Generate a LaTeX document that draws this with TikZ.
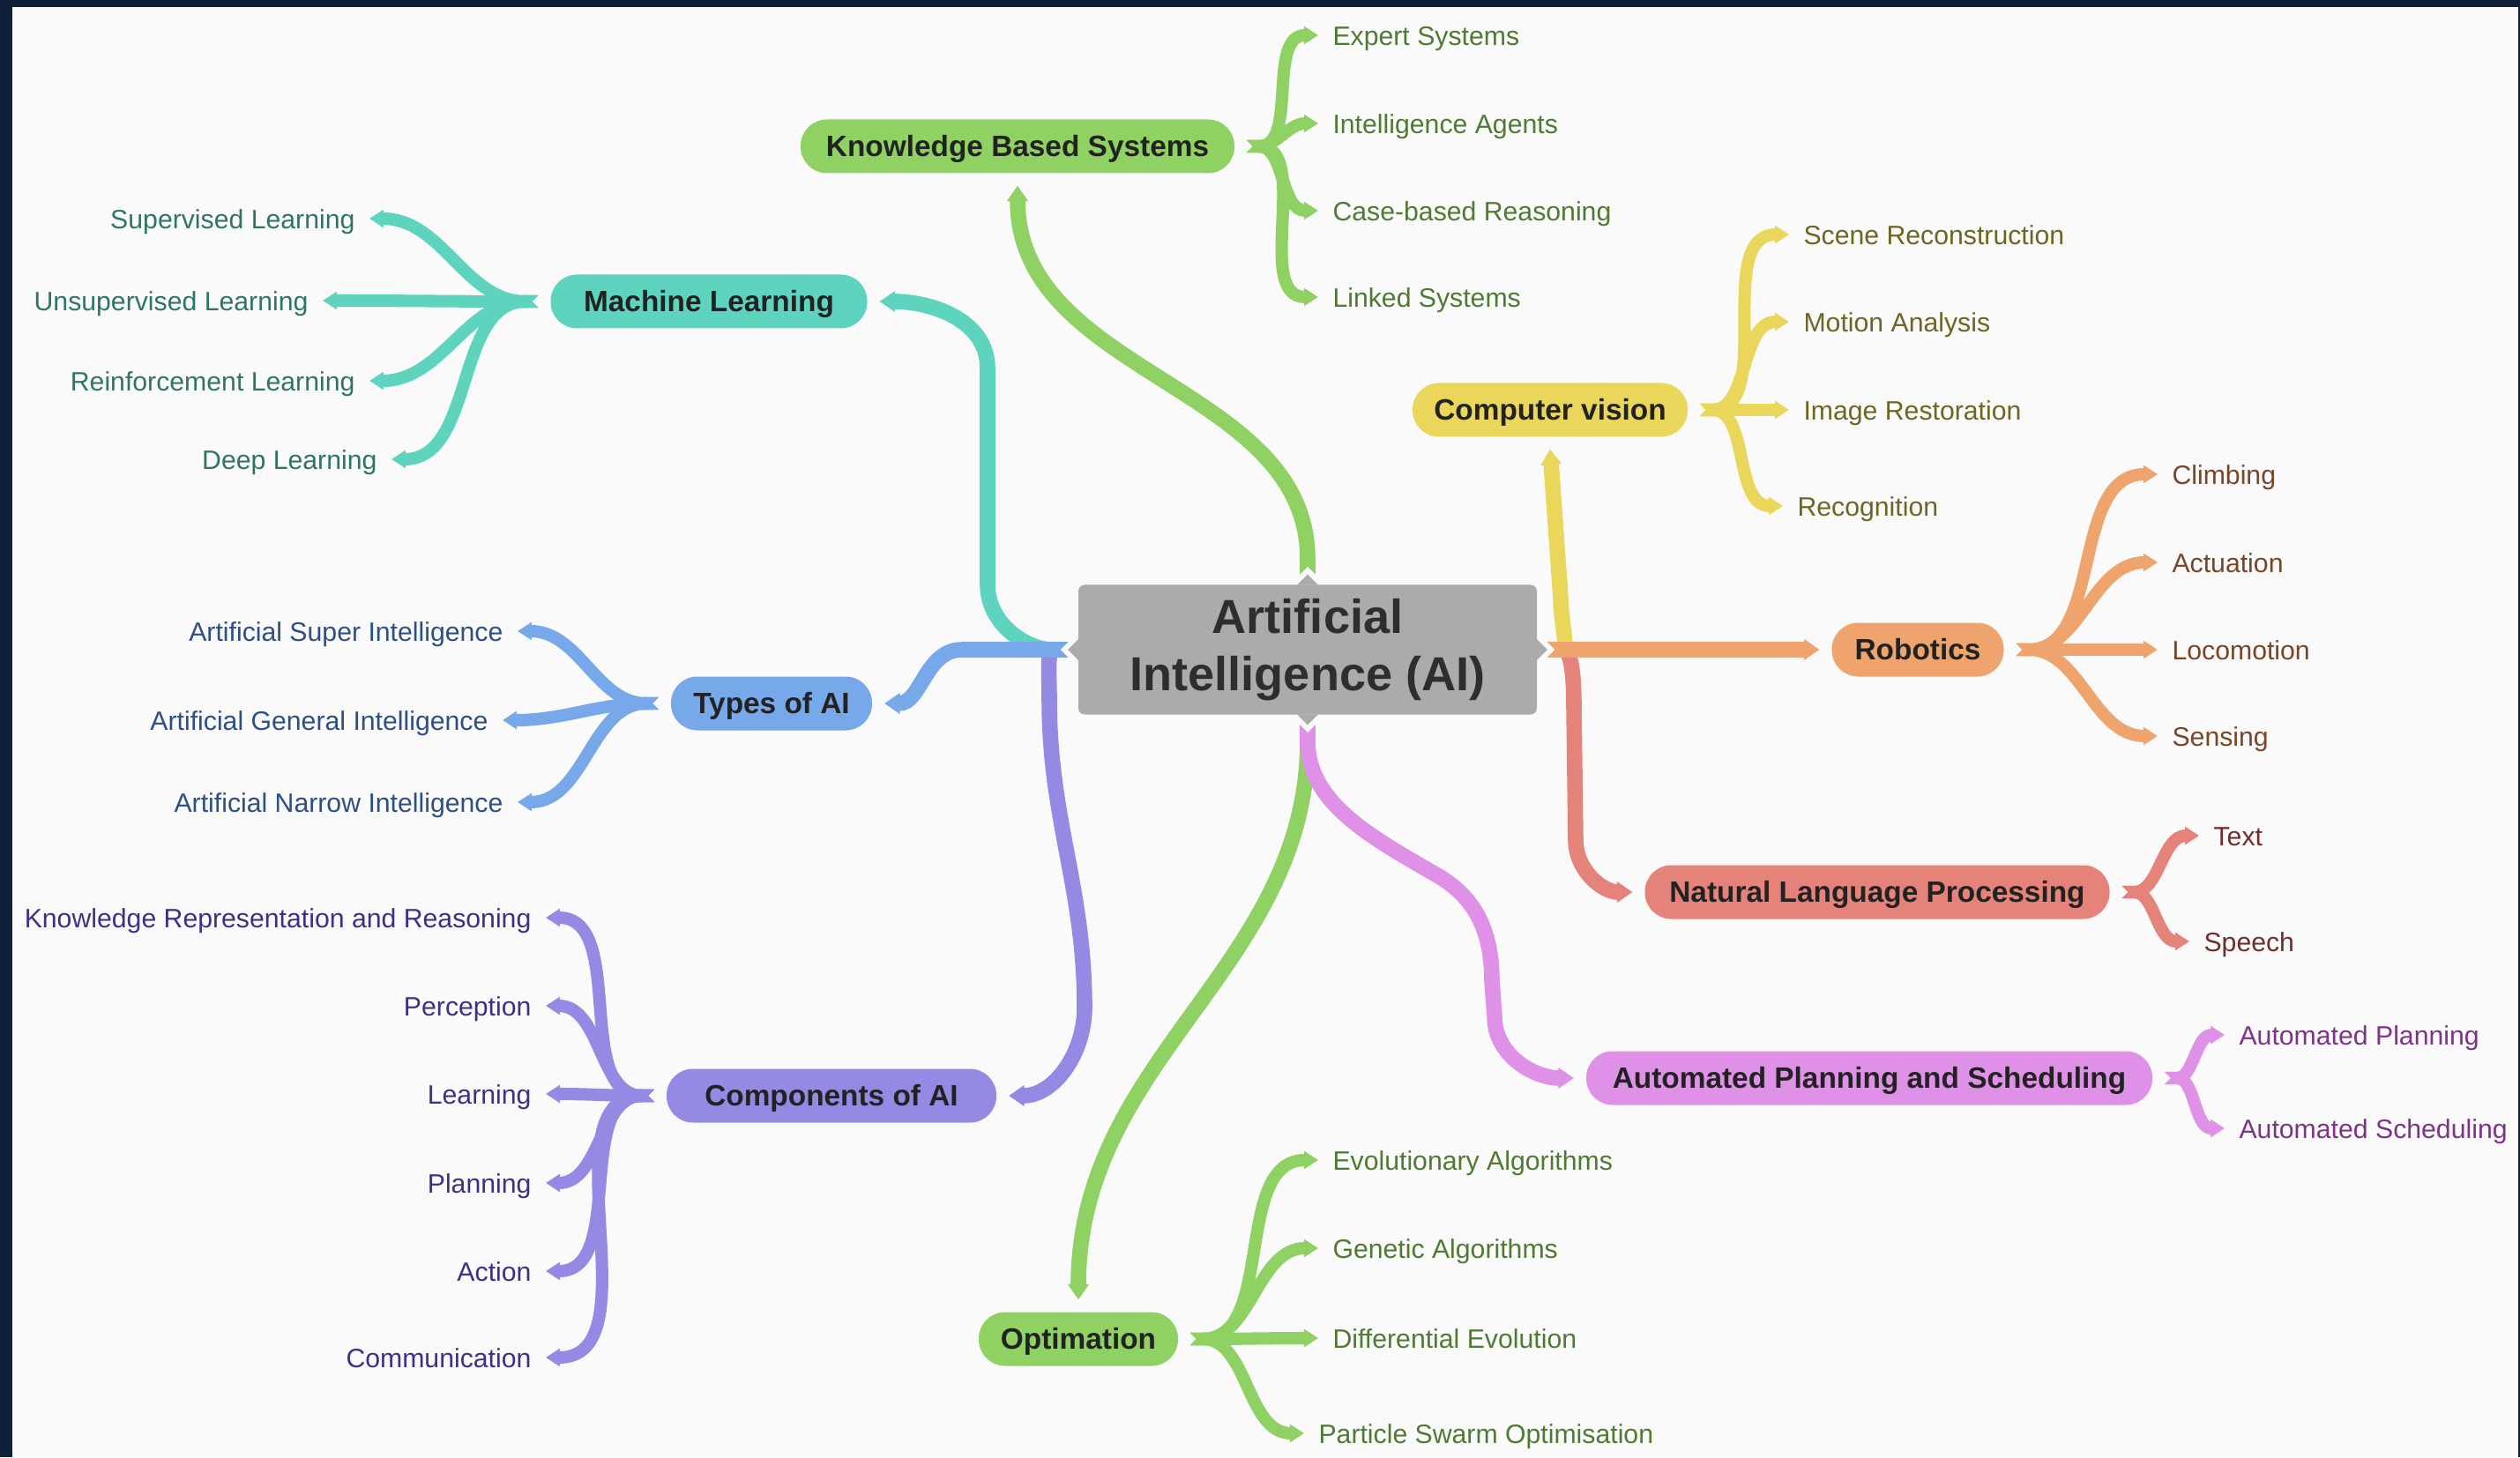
\documentclass[tikz,border=0pt]{standalone}
\usepackage{fontspec}
\setmainfont{Liberation Sans}
\usepackage{tikz}
\usetikzlibrary{arrows.meta}

\definecolor{framenavy}{HTML}{0E1F3A}
\definecolor{paper}{HTML}{FAFAFA}
\definecolor{aigrey}{HTML}{ABABAB}
\definecolor{aitext}{HTML}{2E2E2E}
\definecolor{branchtext}{HTML}{222222}
\definecolor{kbsgreen}{HTML}{90D163}
\definecolor{kbstext}{HTML}{4F7A32}
\definecolor{mlteal}{HTML}{5ED4BF}
\definecolor{mltext}{HTML}{2F7566}
\definecolor{typesblue}{HTML}{77A8EA}
\definecolor{typestext}{HTML}{2D4F86}
\definecolor{compviolet}{HTML}{958AE3}
\definecolor{comptext}{HTML}{3C3187}
\definecolor{cvyellow}{HTML}{E9D65B}
\definecolor{cvtext}{HTML}{6F6522}
\definecolor{robmorange}{HTML}{EFA46E}
\definecolor{robtext}{HTML}{7A4527}
\definecolor{nlpred}{HTML}{E5837A}
\definecolor{nlptext}{HTML}{6E2F2C}
\definecolor{apspink}{HTML}{DE91E6}
\definecolor{apstext}{HTML}{7B3487}

\tikzset{
  aibox/.style={fill=aigrey, rounded corners=2pt, minimum width=5.2cm, minimum height=1.47cm,
    align=center, outer sep=3.4pt, text=aitext, font=\fontsize{15.4}{18.4}\selectfont\bfseries},
  pill/.style={rectangle, rounded corners=8.5pt, minimum height=0.61cm, inner xsep=6pt,
    text height=8.5pt, text depth=2pt, outer sep=4pt, text=branchtext,
    font=\fontsize{9.5}{11}\selectfont\bfseries},
  leaf/.style={inner xsep=4.5pt, inner ysep=1pt, text height=8.3pt, text depth=1.9pt,
    font=\fontsize{8.6}{10}\selectfont},
  leafl/.style={leaf, anchor=west},
  leafr/.style={leaf, anchor=east},
  trunk/.style={line width=5pt, {Triangle Cap[reversed]}-{Triangle[length=5pt,width=6.5pt]}},
  twig/.style={line width=4pt, {Triangle Cap[reversed]}-{Triangle[length=4.5pt,width=5.5pt]}},
}

\begin{document}
\begin{tikzpicture}
    % Background
    \useasboundingbox (0,0) rectangle (28.58,16.53);
    \fill[framenavy] (0,0) rectangle (28.58,16.53);
    \fill[paper] (0.14,0) rectangle (28.56,16.45);

    % Centre
    \node[aibox] (ai) at (14.83,9.16) {Artificial\\Intelligence (AI)};
    \fill[aigrey] (ai.north) -- +(-45:0.17) -- +(-135:0.17) -- cycle;
    \fill[aigrey] (ai.south) -- +(45:0.17) -- +(135:0.17) -- cycle;
    \fill[aigrey] (ai.east) -- +(135:0.17) -- +(-135:0.17) -- cycle;
    \fill[aigrey] (ai.west) -- +(45:0.17) -- +(-45:0.17) -- cycle;

    % Branches
    \node[pill, fill=kbsgreen, minimum width=4.92cm] (kbs) at (11.54,14.87) {Knowledge Based Systems};
    \node[pill, fill=mlteal, minimum width=3.59cm] (ml) at (8.04,13.11) {Machine Learning};
    \node[pill, fill=typesblue, minimum width=2.28cm] (types) at (8.75,8.55) {Types of AI};
    \node[pill, fill=compviolet, minimum width=3.74cm] (comp) at (9.43,4.10) {Components of AI};
    \node[pill, fill=kbsgreen, minimum width=2.26cm] (opt) at (12.23,1.34) {Optimation};
    \node[pill, fill=cvyellow, minimum width=3.12cm] (cv) at (17.58,11.88) {Computer vision};
    \node[pill, fill=robmorange, minimum width=1.95cm] (rob) at (21.75,9.16) {Robotics};
    \node[pill, fill=nlpred, minimum width=5.27cm] (nlp) at (21.29,6.41) {Natural Language Processing};
    \node[pill, fill=apspink, minimum width=6.42cm] (aps) at (21.20,4.30) {Automated Planning and Scheduling};

    % Knowledge based systems
    \node[leafl, text=kbstext] (es) at (14.95,16.13) {Expert Systems};
    \node[leafl, text=kbstext] (ia) at (14.95,15.13) {Intelligence Agents};
    \node[leafl, text=kbstext] (cbr) at (14.95,14.14) {Case-based Reasoning};
    \node[leafl, text=kbstext] (lsys) at (14.95,13.16) {Linked Systems};

    % Machine learning
    \node[leafr, text=mltext] (sup) at (4.19,14.05) {Supervised Learning};
    \node[leafr, text=mltext] (unsup) at (3.66,13.12) {Unsupervised Learning};
    \node[leafr, text=mltext] (rein) at (4.19,12.21) {Reinforcement Learning};
    \node[leafr, text=mltext] (deep) at (4.44,11.32) {Deep Learning};

    % Types of AI
    \node[leafr, text=typestext] (asi) at (5.87,9.37) {Artificial Super Intelligence};
    \node[leafr, text=typestext] (agi) at (5.70,8.36) {Artificial General Intelligence};
    \node[leafr, text=typestext] (ani) at (5.87,7.43) {Artificial Narrow Intelligence};

    % Components of AI
    \node[leafr, text=comptext] (krr) at (6.19,6.12) {Knowledge Representation and Reasoning};
    \node[leafr, text=comptext] (perc) at (6.19,5.12) {Perception};
    \node[leafr, text=comptext] (learn) at (6.19,4.12) {Learning};
    \node[leafr, text=comptext] (plan) at (6.19,3.11) {Planning};
    \node[leafr, text=comptext] (act) at (6.19,2.11) {Action};
    \node[leafr, text=comptext] (comm) at (6.19,1.13) {Communication};

    % Optimation
    \node[leafl, text=kbstext] (evo) at (14.95,3.37) {Evolutionary Algorithms};
    \node[leafl, text=kbstext] (gen) at (14.95,2.37) {Genetic Algorithms};
    \node[leafl, text=kbstext] (diff) at (14.95,1.35) {Differential Evolution};
    \node[leafl, text=kbstext] (pso) at (14.79,0.27) {Particle Swarm Optimisation};

    % Computer vision
    \node[leafl, text=cvtext] (scene) at (20.29,13.87) {Scene Reconstruction};
    \node[leafl, text=cvtext] (motion) at (20.29,12.88) {Motion Analysis};
    \node[leafl, text=cvtext] (image) at (20.29,11.88) {Image Restoration};
    \node[leafl, text=cvtext] (recog) at (20.22,10.79) {Recognition};

    % Robotics
    \node[leafl, text=robtext] (climb) at (24.47,11.15) {Climbing};
    \node[leafl, text=robtext] (actu) at (24.47,10.15) {Actuation};
    \node[leafl, text=robtext] (loco) at (24.47,9.16) {Locomotion};
    \node[leafl, text=robtext] (sens) at (24.47,8.18) {Sensing};

    % NLP
    \node[leafl, text=nlptext] (txt) at (24.94,7.05) {Text};
    \node[leafl, text=nlptext] (speech) at (24.83,5.85) {Speech};

    % Planning and scheduling
    \node[leafl, text=apstext] (aplan) at (25.23,4.79) {Automated Planning};
    \node[leafl, text=apstext] (asched) at (25.23,3.73) {Automated Scheduling};

    % Centre to branches
    \draw[trunk, kbsgreen] (ai.north) to[out=90,in=-90] (kbs.south);
    \draw[trunk, mlteal] (ai.west) to[out=180,in=-90] (11.2,9.9) -- (11.2,12.35) to[out=90,in=0] (ml.east);
    \draw[trunk, compviolet] (ai.west) to[out=180,in=90] (11.9,8.6) to[out=-90,in=90] (12.3,5.1) to[out=-90,in=0] (comp.east);
    \draw[trunk, typesblue] (ai.west) -- ++(-1.2,0) to[out=180,in=0] (types.east);
    \draw[trunk, kbsgreen] (ai.south) to[out=-90,in=90] (opt.north);
    \draw[trunk, apspink] (ai.south) to[out=-90,in=150] (16.3,6.6) to[out=-30,in=90] (16.92,5.4) -- (16.95,5.0) to[out=-90,in=180] (aps.west);
    \draw[trunk, cvyellow] (ai.east) to[out=0,in=-90] (17.70,9.75) -- (cv.south);
    \draw[trunk, nlpred] (ai.east) to[out=0,in=90] (17.85,8.5) -- (17.87,7.0) to[out=-90,in=180] (nlp.west);
    \draw[trunk, robmorange] (ai.east) -- (rob.west);

    % Branches to leaves
    \draw[twig, kbsgreen] (kbs.east) to[out=0,in=180] (es.west);
    \draw[twig, kbsgreen] (kbs.east) to[out=0,in=180] (ia.west);
    \draw[twig, kbsgreen] (kbs.east) to[out=0,in=180] (cbr.west);
    \draw[twig, kbsgreen] (kbs.east) to[out=0,in=180] (lsys.west);

    \draw[twig, mlteal] (ml.west) to[out=180,in=0] (sup.east);
    \draw[twig, mlteal] (ml.west) to[out=180,in=0] (unsup.east);
    \draw[twig, mlteal] (ml.west) to[out=180,in=0] (rein.east);
    \draw[twig, mlteal] (ml.west) to[out=180,in=0] (deep.east);

    \draw[twig, typesblue] (types.west) to[out=180,in=0] (asi.east);
    \draw[twig, typesblue] (types.west) to[out=180,in=0] (agi.east);
    \draw[twig, typesblue] (types.west) to[out=180,in=0] (ani.east);

    \draw[twig, compviolet] (comp.west) to[out=180,in=0] (krr.east);
    \draw[twig, compviolet] (comp.west) to[out=180,in=0] (perc.east);
    \draw[twig, compviolet] (comp.west) to[out=180,in=0] (learn.east);
    \draw[twig, compviolet] (comp.west) to[out=180,in=0] (plan.east);
    \draw[twig, compviolet] (comp.west) to[out=180,in=0] (act.east);
    \draw[twig, compviolet] (comp.west) to[out=180,in=0] (comm.east);

    \draw[twig, kbsgreen] (opt.east) to[out=0,in=180] (evo.west);
    \draw[twig, kbsgreen] (opt.east) to[out=0,in=180] (gen.west);
    \draw[twig, kbsgreen] (opt.east) to[out=0,in=180] (diff.west);
    \draw[twig, kbsgreen] (opt.east) to[out=0,in=180] (pso.west);

    \draw[twig, cvyellow] (cv.east) to[out=0,in=180] (scene.west);
    \draw[twig, cvyellow] (cv.east) to[out=0,in=180] (motion.west);
    \draw[twig, cvyellow] (cv.east) to[out=0,in=180] (image.west);
    \draw[twig, cvyellow] (cv.east) to[out=0,in=180] (recog.west);

    \draw[twig, robmorange] (rob.east) to[out=0,in=180] (climb.west);
    \draw[twig, robmorange] (rob.east) to[out=0,in=180] (actu.west);
    \draw[twig, robmorange] (rob.east) to[out=0,in=180] (loco.west);
    \draw[twig, robmorange] (rob.east) to[out=0,in=180] (sens.west);

    \draw[twig, nlpred] (nlp.east) to[out=0,in=180] (txt.west);
    \draw[twig, nlpred] (nlp.east) to[out=0,in=180] (speech.west);

    \draw[twig, apspink] (aps.east) to[out=0,in=180] (aplan.west);
    \draw[twig, apspink] (aps.east) to[out=0,in=180] (asched.west);
\end{tikzpicture}
\end{document}
